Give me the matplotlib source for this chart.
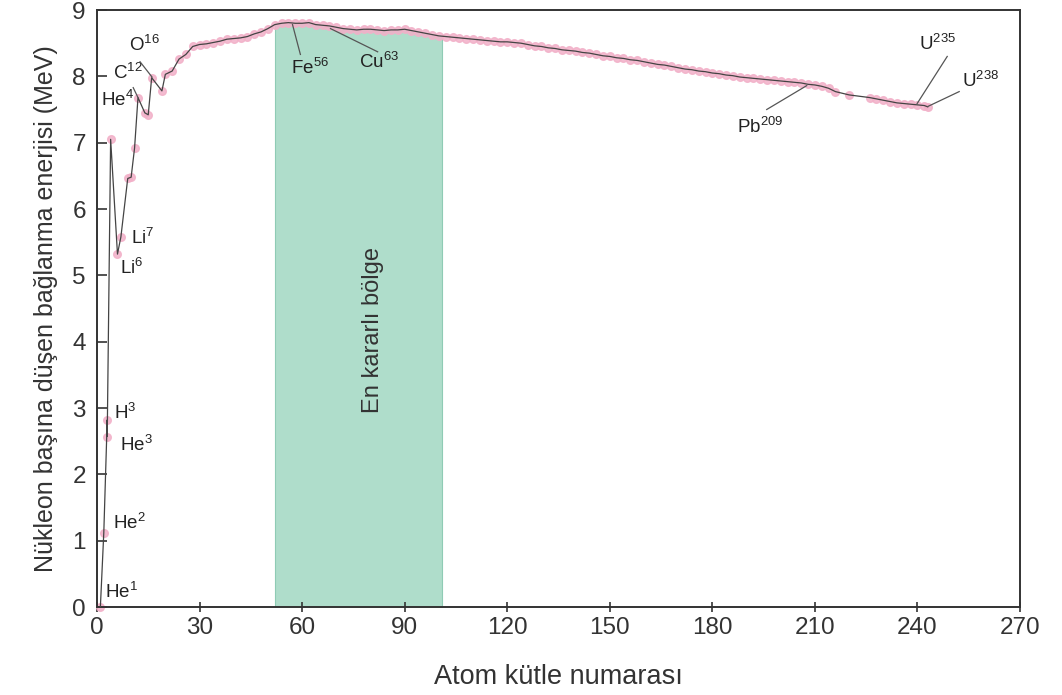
import numpy as np
import matplotlib
matplotlib.use('Agg')
import matplotlib.pyplot as plt

plt.rcParams['font.family'] = ['Liberation Sans', 'DejaVu Sans']
plt.rcParams['mathtext.default'] = 'regular'

# ── veri (grafikten okunan yaklaşık değerler) ──
kutle = [1, 2, 3, 3, 4, 6, 7, 9, 10, 11, 12, 14, 15, 16, 19,
         20, 22, 24, 26, 28, 30, 32, 34, 36, 38, 40, 42, 44, 46, 48,
         50, 52, 54, 56, 58, 60, 62, 64, 66, 68, 70, 72, 74, 76, 78,
         80, 82, 84, 86, 88, 90, 92, 94, 96, 98, 100, 102, 104, 106, 108,
         110, 112, 114, 116, 118, 120, 122, 124, 126, 128, 130, 132, 134, 136, 138,
         140, 142, 144, 146, 148, 150, 152, 154, 156, 158, 160, 162, 164, 166, 168,
         170, 172, 174, 176, 178, 180, 182, 184, 186, 188, 190, 192, 194, 196, 198,
         200, 202, 204, 206, 208, 210, 212, 214, 216, 220,
         226, 228, 230, 232, 234, 236, 238, 240, 242, 243]
enerji = [0.0, 1.12, 2.82, 2.57, 7.05, 5.32, 5.58, 6.46, 6.48, 6.92, 7.68, 7.45, 7.42, 7.98, 7.78,
          8.03, 8.08, 8.26, 8.33, 8.45, 8.48, 8.49, 8.51, 8.53, 8.56, 8.57, 8.58, 8.60, 8.64, 8.67,
          8.72, 8.78, 8.80, 8.81, 8.80, 8.80, 8.81, 8.78, 8.77, 8.76, 8.74, 8.72, 8.71, 8.70, 8.71,
          8.71, 8.70, 8.69, 8.70, 8.70, 8.71, 8.69, 8.67, 8.65, 8.63, 8.61, 8.60, 8.59, 8.58, 8.57,
          8.56, 8.55, 8.54, 8.53, 8.52, 8.52, 8.51, 8.50, 8.48, 8.46, 8.45, 8.43, 8.42, 8.40, 8.39,
          8.38, 8.36, 8.35, 8.33, 8.31, 8.30, 8.28, 8.27, 8.25, 8.24, 8.22, 8.20, 8.18, 8.17, 8.15,
          8.13, 8.11, 8.10, 8.08, 8.07, 8.05, 8.04, 8.02, 8.01, 7.99, 7.98, 7.97, 7.96, 7.95, 7.94,
          7.93, 7.92, 7.91, 7.90, 7.88, 7.87, 7.85, 7.82, 7.77, 7.72,
          7.68, 7.66, 7.64, 7.62, 7.60, 7.59, 7.58, 7.57, 7.56, 7.54]

kararli_bolge = (52, 101)

# etiket: (metin, metin_x, metin_y, çizgi başlangıcı, çizgi sonu)
etiketler = [
    ('He$^{1}$', 7.3, 0.23, None, None),
    ('He$^{2}$', 9.6, 1.27, None, None),
    ('H$^{3}$', 8.3, 2.93, None, None),
    ('He$^{3}$', 11.6, 2.44, None, None),
    ('He$^{4}$', 5.9, 7.64, None, None),
    ('Li$^{7}$', 13.4, 5.57, None, None),
    ('Li$^{6}$', 10.2, 5.11, None, None),
    ('C$^{12}$', 9.0, 8.05, (10.6, 7.83), (12, 7.68)),
    ('O$^{16}$', 13.9, 8.48, (12.6, 8.22), (16.1, 7.99)),
    ('Fe$^{56}$', 62.2, 8.13, (57.2, 8.78), (59.5, 8.33)),
    ('Cu$^{63}$', 82.4, 8.22, (68.3, 8.72), (82.1, 8.37)),
    ('Pb$^{209}$', 194, 7.24, (207.6, 7.86), (195.9, 7.50)),
    ('U$^{235}$', 246, 8.49, (248.7, 8.30), (239.9, 7.59)),
    ('U$^{238}$', 258.4, 7.93, (252.2, 7.77), (243.2, 7.55)),
]

# ── çizim ──
fig = plt.figure(figsize=(10.62, 6.95), dpi=100)
ax = fig.add_axes([0.0913, 0.1266, 0.8692, 0.859])

x = np.array(kutle, dtype=float)
y = np.array(enerji)

# en kararlı bölge
a, b = kararli_bolge
ic = (x > a) & (x < b)
fx = np.concatenate([[a], x[ic], [b]])
fy = np.concatenate([[np.interp(a, x[4:], y[4:])], y[ic], [np.interp(b, x[4:], y[4:])]])
ax.fill_between(fx, 0, fy, color='#afddcb', linewidth=0, zorder=1)
ax.plot([a, a], [0, fy[0]], color='#8fcbb5', linewidth=0.8, zorder=1)
ax.plot([b, b], [0, fy[-1]], color='#8fcbb5', linewidth=0.8, zorder=1)
ax.text(80.6, 4.18, 'En kararlı bölge', rotation=90, ha='center', va='center',
        fontsize=17, color='#333333')

ax.plot(x, y, color='#f2b0c8', marker='o', markersize=5.5, linestyle='none',
        alpha=0.85, zorder=2, clip_on=False)
ax.plot(x, y, color='#444444', linewidth=0.9, zorder=3)

for metin, tx, ty, p1, p2 in etiketler:
    ax.text(tx, ty, metin, ha='center', va='center', fontsize=13.5, color='#222222')
    if p1 is not None:
        ax.plot([p1[0], p2[0]], [p1[1], p2[1]], color='#555555', linewidth=0.9, zorder=4)

ax.set_xlim(0, 270)
ax.set_ylim(0, 9)
ax.set_xticks(range(0, 271, 30))
ax.set_yticks(range(0, 10))
ax.tick_params(axis='x', direction='inout', length=7, width=1.2, labelsize=17.5,
               pad=4, colors='#333333')
ax.tick_params(axis='y', direction='in', length=7, width=1.2, labelsize=17.5,
               pad=8, colors='#333333')
for s in ax.spines.values():
    s.set_color('#333333')
    s.set_linewidth(1.4)

ax.set_xlabel('Atom kütle numarası', fontsize=19.5, color='#333333', labelpad=18)
ax.set_ylabel('Nükleon başına düşen bağlanma enerjisi (MeV)', fontsize=18,
              color='#333333', labelpad=10)

fig.savefig('out.png', dpi=100)
